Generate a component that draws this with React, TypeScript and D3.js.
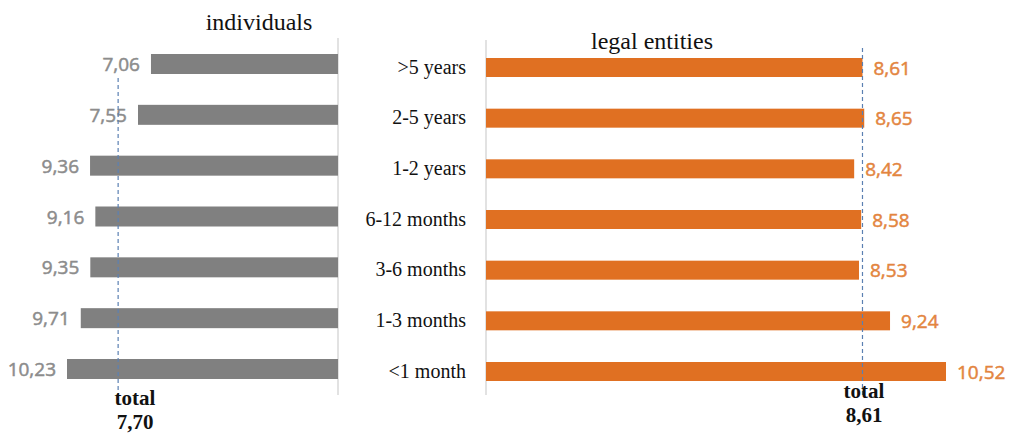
import React from "react";
import * as d3 from "d3";

const categories = [">5 years", "2-5 years", "1-2 years", "6-12 months", "3-6 months", "1-3 months", "<1 month"];
const individuals = [7.06, 7.55, 9.36, 9.16, 9.35, 9.71, 10.23];
const legalEntities = [8.61, 8.65, 8.42, 8.58, 8.53, 9.24, 10.52];
const totals = [7.7, 8.61];
// where the dashed "total" lines are drawn in the picture (the left one is not at its value)
const totalLineAt = [8.3, 8.61];

const fmt = (v: number) => d3.format(".2f")(v).replace(".", ",");

const SERIF = "'Liberation Serif', 'Times New Roman', serif";
const SANS = "'Open Sans', 'Liberation Sans', sans-serif";

export default function App() {
  const W = 1010;
  const H = 438;

  const xL = d3.scaleLinear().domain([0, 10.23]).range([338, 67]);
  const xR = d3.scaleLinear().domain([0, 10.52]).range([486, 946]);
  const yL = d3.scalePoint<string>().domain(categories).range([64, 369]);
  const yR = d3.scalePoint<string>().domain(categories).range([67.5, 371.5]);

  return (
    <svg width={W} height={H} style={{ position: "absolute", left: 0, top: 0, background: "#fff" }}>
      {/* titles */}
      <text x={259} y={30} textAnchor="middle" fontFamily={SERIF} fontSize={24} fill="#111">individuals</text>
      <text x={652} y={49} textAnchor="middle" fontFamily={SERIF} fontSize={24} fill="#111">legal entities</text>

      {/* axis lines */}
      <line x1={xL(0)} x2={xL(0)} y1={38} y2={395} stroke="#d9d9d9" strokeWidth={1.5} />
      <line x1={xR(0)} x2={xR(0)} y1={40} y2={395} stroke="#d9d9d9" strokeWidth={1.5} />

      {/* individuals */}
      {categories.map((c, i) => (
        <g key={"l" + c}>
          <rect x={xL(individuals[i])} y={yL(c)! - 10} width={xL(0) - xL(individuals[i])} height={20} fill="#808080" />
          <text x={xL(individuals[i]) - 11} y={yL(c)! + 7} textAnchor="end" fontFamily={SANS} fontSize={19}
            fill="#8c8c8c" stroke="#8c8c8c" strokeWidth={0.5}>
            {fmt(individuals[i])}
          </text>
        </g>
      ))}

      {/* legal entities */}
      {categories.map((c, i) => (
        <g key={"r" + c}>
          <rect x={xR(0)} y={yR(c)! - 9.5} width={xR(legalEntities[i]) - xR(0)} height={19} fill="#e07022" />
          <text x={xR(legalEntities[i]) + 11} y={yR(c)! + 7} fontFamily={SANS} fontSize={19}
            fill="#e3853f" stroke="#e3853f" strokeWidth={0.5}>
            {fmt(legalEntities[i])}
          </text>
          <text x={466} y={yR(c)! + 6} textAnchor="end" fontFamily={SERIF} fontSize={20} fill="#111">
            {c}
          </text>
        </g>
      ))}

      {/* total lines */}
      <line x1={xL(totalLineAt[0])} x2={xL(totalLineAt[0])} y1={78} y2={400} stroke="#5b80b2" strokeWidth={1.2} strokeDasharray="4,3" />
      <line x1={xR(totalLineAt[1])} x2={xR(totalLineAt[1])} y1={48} y2={396} stroke="#5b80b2" strokeWidth={1.2} strokeDasharray="4,3" />

      <text x={135} y={405} textAnchor="middle" fontFamily={SERIF} fontWeight="bold" fontSize={21} fill="#111">total</text>
      <text x={135} y={429} textAnchor="middle" fontFamily={SERIF} fontWeight="bold" fontSize={21} fill="#111">{fmt(totals[0])}</text>
      <text x={864} y={398} textAnchor="middle" fontFamily={SERIF} fontWeight="bold" fontSize={21} fill="#111">total</text>
      <text x={864} y={422} textAnchor="middle" fontFamily={SERIF} fontWeight="bold" fontSize={21} fill="#111">{fmt(totals[1])}</text>
    </svg>
  );
}
